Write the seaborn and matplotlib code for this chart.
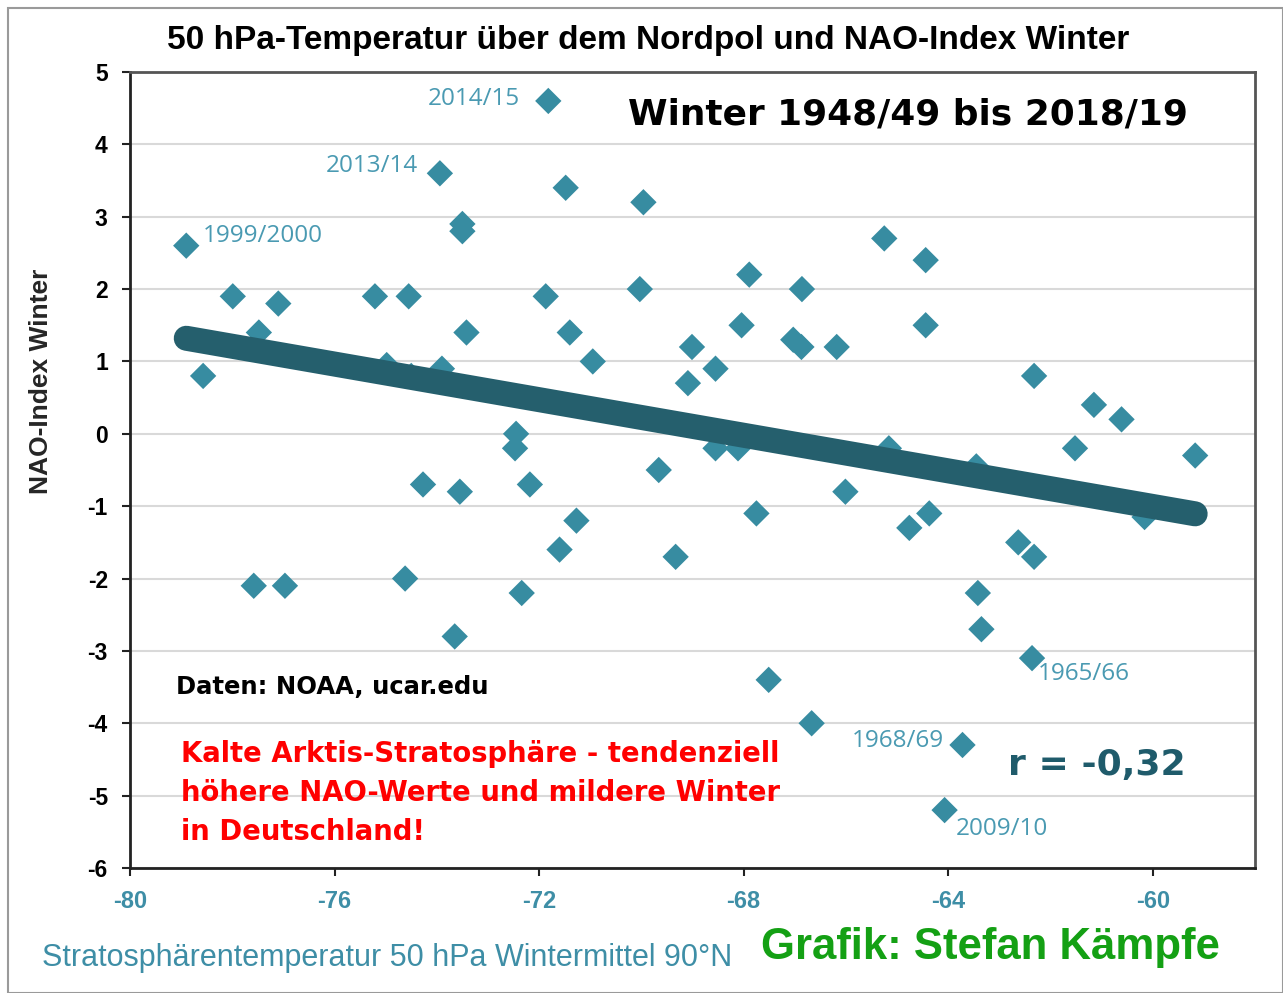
import numpy as np
import pandas as pd
import matplotlib
matplotlib.use("Agg")
import matplotlib.pyplot as plt
import seaborn as sns
from matplotlib.patches import Rectangle

# ---- data ----
temp_50hpa = [
    -78.90, -78.57, -77.99, -77.48, -77.10, -77.58, -76.97, -75.21, -74.98, -74.55,
    -74.50, -74.62, -74.27, -73.94, -73.90, -73.50, -73.50, -73.42, -73.65, -73.55,
    -71.82, -71.48, -71.87, -71.40, -70.95, -72.45, -72.47, -72.18, -72.34, -71.60,
    -71.27, -69.96, -70.03, -69.66, -69.33, -69.01, -69.09, -68.55, -68.55, -68.11,
    -68.04, -67.89, -67.75, -67.51, -67.03, -66.87, -66.86, -66.67, -66.18, -66.01,
    -65.25, -65.16, -64.76, -64.37, -64.44, -64.44, -63.72, -64.07, -63.45, -63.42,
    -63.35, -62.63, -62.32, -62.36, -62.32, -61.52, -61.15, -60.61, -60.16, -59.17,
]
nao_index = [
    2.6, 0.8, 1.9, 1.4, 1.8, -2.1, -2.1, 1.9, 0.95, 1.9,
    0.8, -2.0, -0.7, 3.6, 0.9, 2.9, 2.8, 1.4, -2.8, -0.8,
    4.6, 3.4, 1.9, 1.4, 1.0, 0.0, -0.2, -0.7, -2.2, -1.6,
    -1.2, 3.2, 2.0, -0.5, -1.7, 1.2, 0.7, 0.9, -0.2, -0.2,
    1.5, 2.2, -1.1, -3.4, 1.3, 1.2, 2.0, -4.0, 1.2, -0.8,
    2.7, -0.2, -1.3, -1.1, 2.4, 1.5, -4.3, -5.2, -0.45, -2.2,
    -2.7, -1.5, -1.7, -3.1, 0.8, -0.2, 0.4, 0.2, -1.15, -0.3,
]
label_years = ["1999/2000", "2013/14", "2014/15", "1965/66", "1968/69", "2009/10"]
label_index = [0, 13, 20, 63, 56, 57]

x_ticks = [-80, -76, -72, -68, -64, -60]
y_ticks = [-6, -5, -4, -3, -2, -1, 0, 1, 2, 3, 4, 5]

df = pd.DataFrame({"temp": temp_50hpa, "nao": nao_index})

# ---- style ----
sns.set_style("white")
plt.rcParams["font.family"] = ["Liberation Sans", "DejaVu Sans"]
plt.rcParams["axes.unicode_minus"] = False
NARROW = ["Liberation Sans Narrow", "Liberation Sans", "DejaVu Sans"]

POINT_C = "#378CA1"
LINE_C = "#255F6D"
LABEL_C = "#4A9AB2"
TICK_C = "#3E8EA6"

fig = plt.figure(figsize=(12.83, 9.93), dpi=100)
ax = fig.add_axes([130 / 1283, 1 - 868 / 993, (1255 - 130) / 1283, (868 - 72) / 993])

# outer frame of the picture
fig.patches.append(Rectangle((8 / 1283, 0.0), 1 - 8 / 1283, 1 - 8 / 993, transform=fig.transFigure,
                             fill=False, edgecolor="#9a9a9a", linewidth=1.5))

ax.set_xlim(-80, -58)
ax.set_ylim(-6, 5)
ax.set_yticks(y_ticks)
ax.set_xticks(x_ticks)
ax.grid(axis="y", color="#d9d9d9", linewidth=1.5, zorder=0)
ax.set_axisbelow(True)

sns.scatterplot(data=df, x="temp", y="nao", marker="D", s=180, color=POINT_C,
                edgecolor="none", linewidth=0, ax=ax, zorder=3)
sns.regplot(data=df, x="temp", y="nao", scatter=False, ci=None, ax=ax,
            line_kws=dict(color=LINE_C, linewidth=18, solid_capstyle="round", zorder=4))

# point labels
offsets = {"1999/2000": (17, 10, "left"), "2013/14": (-22, 7, "right"), "2014/15": (-28, 2, "right"),
           "1965/66": (6, -16, "left"), "1968/69": (-19, 4, "right"), "2009/10": (11, -19, "left")}
for yr, idx in zip(label_years, label_index):
    dx, dy, ha = offsets[yr]
    ax.annotate(yr, (temp_50hpa[idx], nao_index[idx]), xytext=(dx, dy), textcoords="offset pixels",
                ha=ha, va="center", fontsize=17.5, color=LABEL_C, family=["Open Sans", "DejaVu Sans"],
                zorder=5)

# spines and ticks
for s in ["top", "right"]:
    ax.spines[s].set_color("#555555")
    ax.spines[s].set_linewidth(2)
for s in ["left", "bottom"]:
    ax.spines[s].set_color("#222222")
    ax.spines[s].set_linewidth(2)
ax.tick_params(axis="both", direction="out", length=6, width=1.5, color="#222222",
               bottom=True, left=True)
ax.tick_params(axis="x", labelsize=17, labelcolor=TICK_C, pad=10)
ax.tick_params(axis="y", labelsize=16.5, labelcolor="black", pad=10)
for lab in ax.get_xticklabels():
    lab.set_fontweight("bold")
for lab in ax.get_yticklabels():
    lab.set_fontweight("bold")

ax.set_xlabel("")
ax.set_ylabel("NAO-Index Winter", fontsize=19, fontweight="bold", family=NARROW)
ax.yaxis.set_label_coords(-0.068, (868 - 381) / 796)

# texts
fig.text(648 / 1283, 1 - 40 / 993, "50 hPa-Temperatur über dem Nordpol und NAO-Index Winter",
         ha="center", va="center", fontsize=24, fontweight="bold", family=NARROW, color="black")
fig.text(1188 / 1283, 1 - 114 / 993, "Winter 1948/49 bis 2018/19", ha="right", va="center",
         fontsize=25.8, fontweight="heavy", family=["DejaVu Sans"], color="black")
fig.text(176 / 1283, 1 - 687 / 993, "Daten: NOAA, ucar.edu",
         ha="left", va="center", fontsize=17.5, fontweight="bold", family=["DejaVu Sans"], color="black")
fig.text(181 / 1283, 1 - 793 / 993,
         "Kalte Arktis-Stratosphäre - tendenziell\nhöhere NAO-Werte und mildere Winter\nin Deutschland!",
         ha="left", va="center", fontsize=19.8, fontweight="bold", family=["DejaVu Sans"], color="#ff0000",
         linespacing=1.5)
fig.text(1186 / 1283, 1 - 765 / 993, "r = -0,32", ha="right", va="center", fontsize=26,
         fontweight="bold", family=["DejaVu Sans"], color="#1f5b6b")
fig.text(42 / 1283, 1 - 958 / 993, "Stratosphärentemperatur 50 hPa Wintermittel 90°N",
         ha="left", va="center", fontsize=22, family=NARROW, color=TICK_C)
fig.text(1220 / 1283, 1 - 948 / 993, "Grafik: Stefan Kämpfe", ha="right", va="center",
         fontsize=31.5, fontweight="bold", family=NARROW, color="#14a014")

fig.savefig("out.png", dpi=100)
